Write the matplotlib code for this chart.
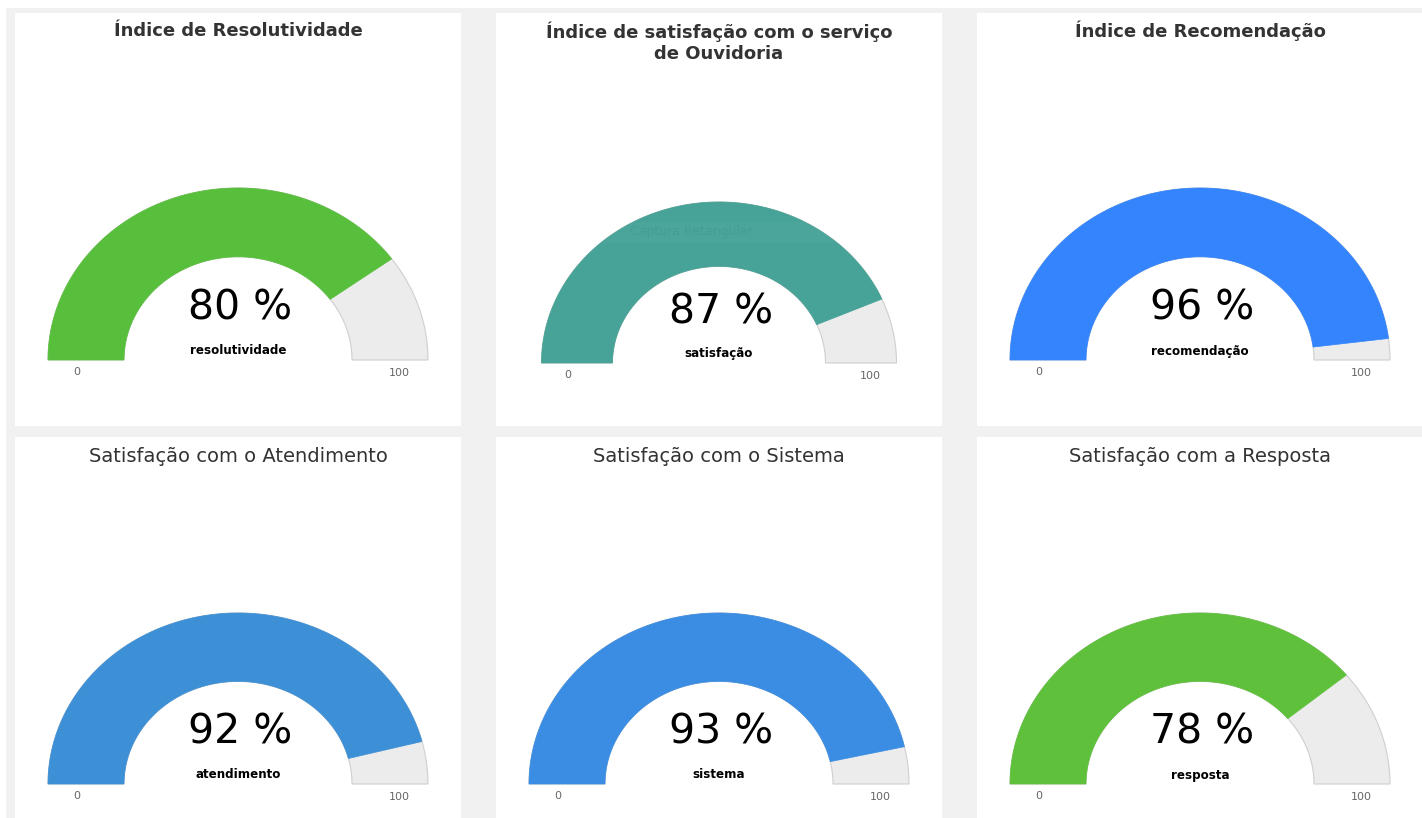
import numpy as np
import matplotlib
matplotlib.use('Agg')
import matplotlib.pyplot as plt
from matplotlib.patches import Polygon, Rectangle

titles = ['Índice de Resolutividade',
          'Índice de satisfação com o serviço\nde Ouvidoria',
          'Índice de Recomendação',
          'Satisfação com o Atendimento',
          'Satisfação com o Sistema',
          'Satisfação com a Resposta']
values = [80, 87, 96, 92, 93, 78]
labels = ['resolutividade', 'satisfação', 'recomendação',
          'atendimento', 'sistema', 'resposta']
gauge_min = 0
gauge_max = 100

colors = ['#58bf3c', '#47a397', '#3384fd', '#3d8fd6', '#3a8de3', '#5fc13b']

W, H = 1422, 818
fig = plt.figure(figsize=(W / 100, H / 100), dpi=100)
ax = fig.add_axes([0, 0, 1, 1])
ax.set_xlim(0, W)
ax.set_ylim(H, 0)
ax.axis('off')

# page background
ax.add_patch(Rectangle((6, 8), W, H, facecolor='#f1f1f1', edgecolor='none'))

panel_x = [15, 496, 977]
panel_y = [13, 437]
panel_w = 446
panel_h = [413, 400]


def arc(cx, base, rx, ry, v0, v1, inner=0.6, n=120):
    a0 = np.pi * (1 - (v0 - gauge_min) / (gauge_max - gauge_min))
    a1 = np.pi * (1 - (v1 - gauge_min) / (gauge_max - gauge_min))
    t = np.linspace(a0, a1, n)
    outer = np.c_[cx + rx * np.cos(t), base - ry * np.sin(t)]
    inn = np.c_[cx + inner * rx * np.cos(t[::-1]), base - inner * ry * np.sin(t[::-1])]
    return np.vstack([outer, inn])


for i in range(6):
    row, col = divmod(i, 3)
    px, py = panel_x[col], panel_y[row]
    ax.add_patch(Rectangle((px, py), panel_w, panel_h[row],
                           facecolor='white', edgecolor='none'))
    cx = px + 223
    if row == 0:
        if i == 1:
            base, rx, ry = 363, 177.5, 161
            ty = py + 29
        else:
            base, rx, ry = 360, 190, 172
            ty = py + 18
        ax.text(cx, ty, titles[i], ha='center', va='center',
                fontsize=13, fontweight='bold', color='#333333', linespacing=1.2)
    else:
        base, rx, ry = 784, 190, 171
        ax.text(cx, py + 19, titles[i], ha='center', va='center',
                fontsize=14, color='#333333')

    # background band and value band
    ax.add_patch(Polygon(arc(cx, base, rx, ry, gauge_min, gauge_max),
                         closed=True, facecolor='#ececec', edgecolor='#cfcfcf', lw=0.8))
    ax.add_patch(Polygon(arc(cx, base, rx, ry, gauge_min, values[i]),
                         closed=True, facecolor=colors[i], edgecolor=colors[i], lw=0.5))

    ax.text(cx + 2, base - 51, f'{values[i]} %', ha='center', va='center',
            fontsize=29.5, color='black')
    ax.text(cx, base - 9, labels[i], ha='center', va='center',
            fontsize=8.6, fontweight='bold', color='black')
    ax.text(cx - 0.85 * rx, base + 12, str(gauge_min), ha='center', va='center',
            fontsize=8, color='#666666')
    ax.text(cx + 0.85 * rx, base + 13, str(gauge_max), ha='center', va='center',
            fontsize=8, color='#666666')

# faint screen-capture tooltip left over in the second panel
ax.add_patch(Rectangle((592, 222), 248, 21, facecolor='white', alpha=0.03, edgecolor='none'))
ax.text(630, 232, 'Captura Retangular', ha='left', va='center', fontsize=9,
        color='black', alpha=0.05)

fig.savefig('out.png', dpi=100)
